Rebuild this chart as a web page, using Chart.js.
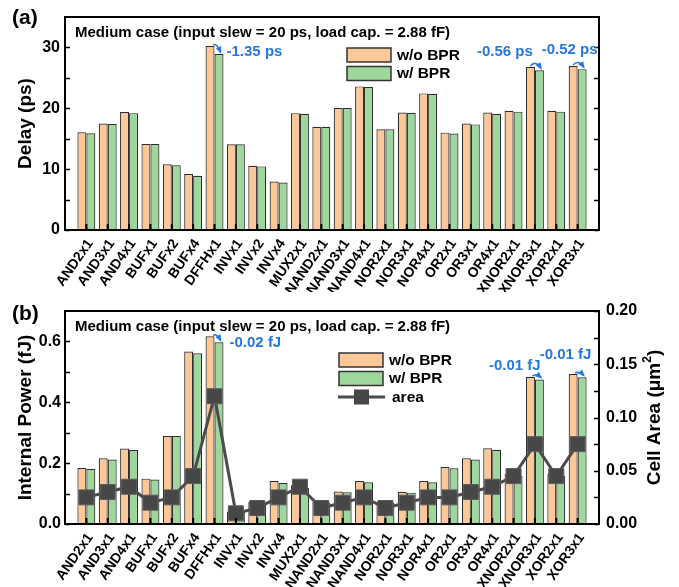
<!DOCTYPE html>
<html>
<head>
<meta charset="utf-8">
<script src="https://cdn.jsdelivr.net/npm/chart.js@4.4.1/dist/chart.umd.min.js"></script>
<style>
  html, body { margin: 0; padding: 0; background: #fff; }
  body { width: 679px; height: 587px; position: relative; overflow: hidden; }
  #delayChart { position: absolute; left: 0; top: 0; }
  #powerChart { position: absolute; left: 0; top: 292px; }
</style>
</head>
<body>
<canvas id="delayChart" width="679" height="292"></canvas>
<canvas id="powerChart" width="679" height="295"></canvas>
<script>
// Standard cells
const categories = ['AND2x1','AND3x1','AND4x1','BUFx1','BUFx2','BUFx4','DFFHx1','INVx1','INVx2','INVx4',
  'MUX2x1','NAND2x1','NAND3x1','NAND4x1','NOR2x1','NOR3x1','NOR4x1','OR2x1','OR3x1','OR4x1',
  'XNOR2x1','XNOR3x1','XOR2x1','XOR3x1'];

// Delay (ps)
const delayWithoutBPR = [16.05,17.5,19.4,14.15,10.8,9.2,30.25,14.1,10.55,7.98,
  19.2,16.95,20.05,23.6,16.55,19.3,22.45,16.0,17.5,19.3,
  19.6,26.8,19.6,26.95];
const delayWithBPR = [15.9,17.4,19.2,14.15,10.65,8.9,28.9,14.1,10.45,7.8,
  19.1,16.95,20.05,23.5,16.55,19.25,22.4,15.85,17.35,19.1,
  19.45,26.24,19.45,26.43];

// Internal power (fJ)
const powerWithoutBPR = [0.184,0.216,0.248,0.149,0.289,0.567,0.617,0.041,0.073,0.141,
  0.127,0.073,0.107,0.141,0.073,0.106,0.141,0.187,0.216,0.249,
  0.165,0.484,0.165,0.493];
const powerWithBPR = [0.181,0.212,0.243,0.146,0.289,0.561,0.597,0.040,0.071,0.135,
  0.118,0.071,0.104,0.137,0.071,0.103,0.137,0.183,0.212,0.244,
  0.158,0.475,0.158,0.482];

// Cell area (um^2)
const cellArea = [0.025,0.030,0.035,0.020,0.025,0.045,0.120,0.010,0.015,0.025,
  0.035,0.015,0.020,0.025,0.015,0.020,0.025,0.025,0.030,0.035,
  0.045,0.075,0.045,0.075];

// Axis tick values
const delayTickValues = [0, 10, 20, 30];
const powerTickValues = [0, 0.2, 0.4, 0.6];
const areaTickValues = [0, 0.05, 0.10, 0.15, 0.20];

// Cells whose BPR change is called out
const delayNoteCells = ['DFFHx1', 'XNOR3x1', 'XOR3x1'];
const powerNoteCells = ['DFFHx1', 'XNOR3x1', 'XOR3x1'];

const caseText = 'Medium case (input slew = 20 ps, load cap. = 2.88 fF)';

// ---- styling ----
const FONT = "'Liberation Sans', Arial, Helvetica, sans-serif";
const ORANGE = '#FCC897';
const GREEN = '#9ED79C';
const EDGE = 'rgba(35,35,35,0.95)';
const BLUE = '#2678E0';
const LINE_GRAY = '#4b4b4b';

Chart.defaults.font.family = FONT;
Chart.defaults.font.weight = 'bold';
Chart.defaults.font.size = 16;
Chart.defaults.color = '#000';

// one empty slot on each side of the category axis
const paddedLabels = ['', ...categories, ''];
const pad = arr => [null, ...arr, null];

function setTicks(values) {
  return scale => { scale.ticks = values.map(v => ({ value: v })); };
}

function arrow(ctx, x0, y0, x1, y1, lift) {
  const cx = (x0 + x1) / 2, cy = Math.min(y0, y1) - lift;
  ctx.beginPath();
  ctx.moveTo(x0, y0);
  ctx.quadraticCurveTo(cx, cy, x1, y1);
  ctx.stroke();
  const ang = Math.atan2(y1 - cy, x1 - cx);
  const s = 6;
  ctx.beginPath();
  ctx.moveTo(x1 + Math.cos(ang) * 2, y1 + Math.sin(ang) * 2);
  ctx.lineTo(x1 - Math.cos(ang - 0.5) * s, y1 - Math.sin(ang - 0.5) * s);
  ctx.lineTo(x1 - Math.cos(ang + 0.5) * s, y1 - Math.sin(ang + 0.5) * s);
  ctx.closePath();
  ctx.fill();
}

// Frame, inward tick marks, panel text, legend and callouts
const decor = {
  id: 'decor',
  afterDatasetsDraw(chart, args, o) {
    const { ctx, chartArea: a, scales } = chart;
    ctx.save();
    ctx.strokeStyle = '#000';
    ctx.lineWidth = 1.5;

    const yTicks = (scale, x, dir) => {
      const vals = scale.ticks.map(t => t.value);
      const step = vals[1] - vals[0];
      const all = [];
      vals.forEach(v => { all.push(v); if (v + step / 2 < scale.max) all.push(v + step / 2); });
      all.forEach(v => {
        const y = Math.round(scale.getPixelForValue(v)) + 0.5;
        ctx.beginPath(); ctx.moveTo(x, y); ctx.lineTo(x + dir * 5, y); ctx.stroke();
      });
    };
    yTicks(scales[o.leftAxis], a.left, 1);
    yTicks(scales[o.rightAxis], a.right, -1);

    // category ticks
    const xs = scales.x;
    ctx.lineWidth = 2;
    for (let i = 1; i <= categories.length; i++) {
      const x = xs.getPixelForValue(i);
      ctx.beginPath(); ctx.moveTo(x, a.bottom); ctx.lineTo(x, a.bottom - 6); ctx.stroke();
    }

    // plot frame
    ctx.lineWidth = 2;
    ctx.strokeRect(a.left, a.top, a.right - a.left, a.bottom - a.top);

    // callouts: change from w/o BPR to w/ BPR
    const m0 = chart.getDatasetMeta(0), m1 = chart.getDatasetMeta(1);
    const d0 = chart.data.datasets[0].data, d1 = chart.data.datasets[1].data;
    ctx.fillStyle = BLUE; ctx.strokeStyle = BLUE; ctx.lineWidth = 1.6;
    ctx.font = `bold 15px ${FONT}`;
    ctx.textAlign = 'left'; ctx.textBaseline = 'middle';
    o.notes.forEach((n, k) => {
      const i = categories.indexOf(n) + 1;
      const b0 = m0.data[i], b1 = m1.data[i];
      const diff = (d1[i] - d0[i]).toFixed(2);
      const off = o.noteOffsets[k];
      ctx.fillText(`${diff} ${o.unit}`, xs.getPixelForValue(i) + off[0], b0.y + off[1]);
      arrow(ctx, b0.x + off[2], b0.y - 1, b1.x + 1.5, b1.y - 2, off[3]);
    });

    // panel label and case text
    ctx.fillStyle = '#000';
    ctx.font = `bold 21px ${FONT}`;
    ctx.textBaseline = 'alphabetic';
    ctx.fillText(o.panel, 12, o.panelY);
    ctx.font = `bold 15px ${FONT}`;
    ctx.textBaseline = 'middle';
    ctx.fillText(caseText, 75, o.caseY);

    // legend
    const L = o.legend;
    ctx.lineWidth = 1.5;
    ctx.strokeStyle = '#333';
    ctx.font = `bold 15.5px ${FONT}`;
    [[ORANGE, 'w/o BPR'], [GREEN, 'w/ BPR']].forEach(([c, t], k) => {
      const y = L.y + k * L.gap;
      ctx.fillStyle = c;
      ctx.fillRect(L.x, y, 44, 14);
      ctx.strokeRect(L.x, y, 44, 14);
      ctx.fillStyle = '#000';
      ctx.fillText(t, L.x + 50, y + 7.5);
    });
    if (L.line) {
      const y = L.y + 2 * L.gap + 7;
      ctx.strokeStyle = LINE_GRAY; ctx.lineWidth = 3;
      ctx.beginPath(); ctx.moveTo(L.x - 1, y); ctx.lineTo(L.x + 46, y); ctx.stroke();
      ctx.fillStyle = '#474747';
      ctx.fillRect(L.x + 15, y - 7.5, 15, 15);
      ctx.fillStyle = '#000';
      ctx.fillText('area', L.x + 53, y + 0.5);
    }

    // right-hand axis title (reads bottom to top, with superscript)
    if (o.rightTitle) {
      ctx.save();
      ctx.translate(o.rightTitle.x, (a.top + a.bottom) / 2);
      ctx.rotate(-Math.PI / 2);
      ctx.fillStyle = '#000';
      ctx.textBaseline = 'middle';
      const big = `bold 19px ${FONT}`, small = `bold 12px ${FONT}`;
      ctx.font = big;
      const w1 = ctx.measureText('Cell Area (\u03bcm').width;
      const w3 = ctx.measureText(')').width;
      ctx.font = small;
      const w2 = ctx.measureText('2').width;
      let x = -(w1 + w2 + w3) / 2;
      ctx.font = big; ctx.textAlign = 'left';
      ctx.fillText('Cell Area (\u03bcm', x, 0); x += w1;
      ctx.font = small; ctx.fillText('2', x, -7); x += w2;
      ctx.font = big; ctx.fillText(')', x, 0);
      ctx.restore();
    }
    ctx.restore();
  }
};

const barStyle = { borderColor: EDGE, borderWidth: 1.2, categoryPercentage: 0.84, barPercentage: 1.0, order: 1 };

const xAxis = {
  offset: false,
  grid: { display: false, drawTicks: false, tickLength: 0 },
  border: { display: false },
  ticks: { autoSkip: false, minRotation: 55, maxRotation: 55, padding: 6, labelOffset: 4, font: { size: 14 } }
};

new Chart(document.getElementById('delayChart'), {
  type: 'bar',
  data: {
    labels: paddedLabels,
    datasets: [
      { label: 'w/o BPR', data: pad(delayWithoutBPR), backgroundColor: ORANGE, ...barStyle },
      { label: 'w/ BPR', data: pad(delayWithBPR), backgroundColor: GREEN, ...barStyle }
    ]
  },
  options: {
    responsive: false, animation: false, events: [],
    layout: { padding: { left: 0, right: 80, top: 17, bottom: 0 } },
    plugins: {
      legend: { display: false }, tooltip: { enabled: false },
      decor: {
        leftAxis: 'y', rightAxis: 'y', unit: 'ps',
        notes: delayNoteCells,
        noteOffsets: [[12, 6, 3, 2], [-58, -15, 0, 6], [-36, -16, 0, 6]],
        panel: '(a)', panelY: 24, caseY: 33,
        legend: { x: 347, y: 48, gap: 18.5, line: false }
      }
    },
    scales: {
      x: { ...xAxis, afterFit: s => { s.height = 62; } },
      y: {
        min: 0, max: 35,
        grid: { display: false, drawTicks: false, tickLength: 0 },
        border: { display: false },
        afterBuildTicks: setTicks(delayTickValues),
        ticks: { padding: 5, font: { size: 16 } },
        title: { display: true, text: 'Delay (ps)', font: { size: 19 }, padding: { top: 14, bottom: 0 } },
        afterFit: s => { s.width = 65; }
      }
    }
  },
  plugins: [decor]
});

new Chart(document.getElementById('powerChart'), {
  type: 'bar',
  data: {
    labels: paddedLabels,
    datasets: [
      { label: 'w/o BPR', data: pad(powerWithoutBPR), backgroundColor: ORANGE, yAxisID: 'y', ...barStyle },
      { label: 'w/ BPR', data: pad(powerWithBPR), backgroundColor: GREEN, yAxisID: 'y', ...barStyle },
      {
        type: 'line', label: 'area', data: pad(cellArea), yAxisID: 'y1', order: 0,
        borderColor: LINE_GRAY, borderWidth: 3, spanGaps: false,
        pointStyle: 'rect', pointRadius: 10.6, pointBackgroundColor: '#474747',
        pointBorderColor: '#5c5c5c', pointBorderWidth: 1
      }
    ]
  },
  options: {
    responsive: false, animation: false, events: [],
    layout: { padding: { left: 0, right: 0, top: 19, bottom: 0 } },
    plugins: {
      legend: { display: false }, tooltip: { enabled: false },
      decor: {
        leftAxis: 'y', rightAxis: 'y1', unit: 'fJ',
        notes: powerNoteCells,
        noteOffsets: [[15, 7, 3, 2], [-46, -11, 2, 2], [-38, -19, 2, 2]],
        panel: '(b)', panelY: 28, caseY: 35,
        legend: { x: 339, y: 61, gap: 18.5, line: true },
        rightTitle: { x: 655 }
      }
    },
    scales: {
      x: { ...xAxis, afterFit: s => { s.height = 63; } },
      y: {
        position: 'left', min: 0, max: 0.7,
        grid: { display: false, drawTicks: false, tickLength: 0 },
        border: { display: false },
        afterBuildTicks: setTicks(powerTickValues),
        ticks: { padding: 4, font: { size: 16 }, callback: v => v.toFixed(1) },
        title: { display: true, text: 'Internal Power (fJ)', font: { size: 19 }, padding: { top: 14, bottom: 0 } },
        afterFit: s => { s.width = 65; }
      },
      y1: {
        position: 'right', min: 0, max: 0.2,
        grid: { display: false, drawTicks: false, tickLength: 0 },
        border: { display: false },
        afterBuildTicks: setTicks(areaTickValues),
        ticks: { padding: 7, font: { size: 16 }, callback: v => v.toFixed(2) },
        afterFit: s => { s.width = 80; }
      }
    }
  },
  plugins: [decor]
});
</script>
</body>
</html>
